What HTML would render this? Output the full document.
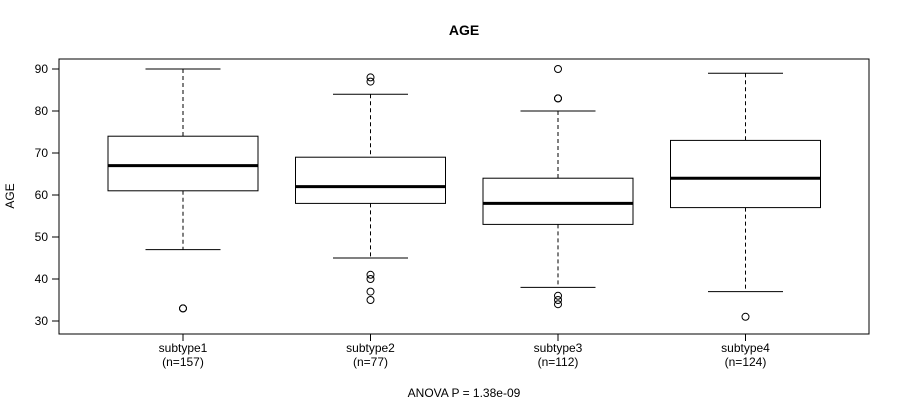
<!DOCTYPE html>
<html><head><meta charset="utf-8"><style>
body{margin:0;background:#fff;}
svg text{font-family:"Liberation Sans",Arial,sans-serif;font-size:12px;fill:#000;}
</style></head><body>
<svg id="chart" width="900" height="400" xmlns="http://www.w3.org/2000/svg">
<text x="464" y="35" text-anchor="middle" style="font-weight:bold;font-size:14px">AGE</text>
<rect x="59" y="59" width="810" height="275" fill="none" stroke="#000"/>
<text transform="translate(14,196) rotate(-90)" text-anchor="middle">AGE</text>
<text x="464" y="397" text-anchor="middle">ANOVA P = 1.38e-09</text>
<g id="yaxis"></g>
<g id="boxes"></g>
</svg>
<script>
const categories=["subtype1","subtype2","subtype3","subtype4"];
const counts=["(n=157)","(n=77)","(n=112)","(n=124)"];
const whiskerHigh=[90,84,80,89];
const q3=[74,69,64,73];
const medians=[67,62,58,64];
const q1=[61,58,53,57];
const whiskerLow=[47,45,38,37];
const outliers=[[33,33],[88,87,41,40,37,35],[90,83,83,36,35,34],[31]];
const yTicks=[30,40,50,60,70,80,90];
const NS="http://www.w3.org/2000/svg";
function y(v){return 321-(v-30)*4.2;}
function x(i){return 183+i*187.5;}
function mk(tag,attrs,parent,text){const e=document.createElementNS(NS,tag);for(const k in attrs)e.setAttribute(k,attrs[k]);if(text!==undefined)e.textContent=text;parent.appendChild(e);return e;}
const ya=document.getElementById('yaxis');
mk('line',{x1:59,x2:59,y1:y(30),y2:y(90),stroke:'#000'},ya);
yTicks.forEach(t=>{
  mk('line',{x1:52,x2:59,y1:y(t),y2:y(t),stroke:'#000'},ya);
  const tx=mk('text',{x:48,y:y(t)+4,'text-anchor':'end'},ya,t);
  
  
});
const g=document.getElementById('boxes');
categories.forEach((c,i)=>{
  const cx=x(i),hw=75;
  const grp=mk('g',{},g);
  
  
  mk('line',{x1:cx,x2:cx,y1:y(whiskerHigh[i]),y2:y(q3[i]),stroke:'#000','stroke-dasharray':'4,3'},grp);
  mk('line',{x1:cx,x2:cx,y1:y(q1[i]),y2:y(whiskerLow[i]),stroke:'#000','stroke-dasharray':'4,3'},grp);
  mk('line',{x1:cx-37.5,x2:cx+37.5,y1:y(whiskerHigh[i]),y2:y(whiskerHigh[i]),stroke:'#000'},grp);
  mk('line',{x1:cx-37.5,x2:cx+37.5,y1:y(whiskerLow[i]),y2:y(whiskerLow[i]),stroke:'#000'},grp);
  mk('rect',{x:cx-hw,y:y(q3[i]),width:2*hw,height:y(q1[i])-y(q3[i]),fill:'none',stroke:'#000'},grp);
  mk('line',{x1:cx-hw,x2:cx+hw,y1:y(medians[i]),y2:y(medians[i]),stroke:'#000','stroke-width':3},grp);
  outliers[i].forEach(o=>{
    const p=mk('circle',{cx:cx,cy:y(o),r:3.5,fill:'none',stroke:'#000'},grp);
    
    
  });
  mk('line',{x1:cx,x2:cx,y1:334,y2:341,stroke:'#000'},grp);
  const l=mk('text',{x:cx,y:352,'text-anchor':'middle'},grp,c);
  
  
  const n=mk('text',{x:cx,y:366,'text-anchor':'middle'},grp,counts[i]);
  
  
});
</script>
</body></html>
